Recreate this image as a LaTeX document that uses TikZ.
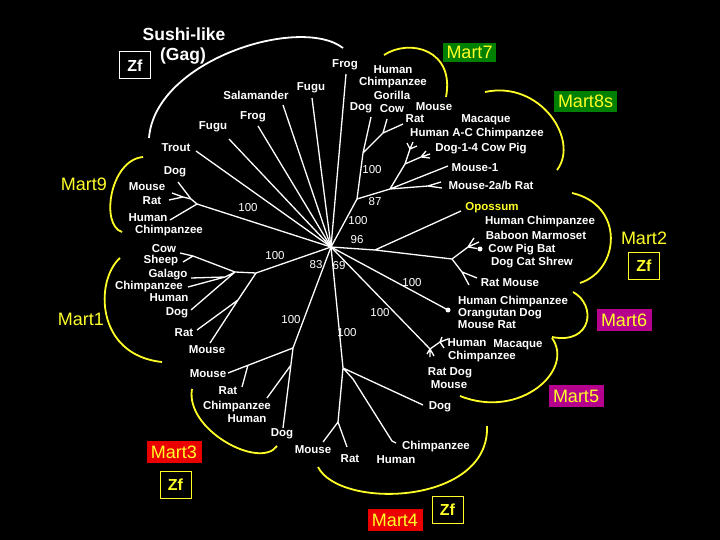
\documentclass[tikz,border=0pt]{standalone}
\usepackage{fontspec}
\setmainfont{Liberation Sans}
\definecolor{mgreen}{RGB}{0,128,0}
\definecolor{mmag}{RGB}{180,0,140}
\definecolor{mred}{RGB}{235,0,0}
\definecolor{myel}{RGB}{255,255,40}
\begin{document}
\begin{tikzpicture}[x=1pt,y=-1pt,
  sp/.style={text=white,font=\bfseries\fontsize{11.5}{12}\selectfont,inner sep=0pt},
  num/.style={text=white,font=\fontsize{11.5}{12}\selectfont,inner sep=0pt},
  br/.style={draw=white,line width=1.3pt},
  grp/.style={draw=myel,line width=1.8pt},
  mart/.style={text=myel,font=\fontsize{18}{18}\selectfont,inner sep=0pt},
  martbox/.style={mart,minimum width=55pt,minimum height=22pt,fill=#1},
  zfbox/.style={draw=myel,line width=1pt,text=myel,font=\bfseries\fontsize{16}{16}\selectfont,inner sep=0pt,minimum width=31pt,minimum height=27pt},
  dotc/.style={fill=white,circle,inner sep=0pt,minimum size=5pt}]
\fill[black] (0,0) rectangle (720,540);
\useasboundingbox (0,0) rectangle (720,540);

% ---- coordinates of the tree ----
\coordinate (c) at (331,247);
\coordinate (ltrout) at (196,151);
\coordinate (lfugua) at (229,139);
\coordinate (lfroga) at (258,126);
\coordinate (lsal) at (283,105);
\coordinate (lfugub) at (312,98);
\coordinate (lfrogb) at (346,74);
% Mart7 / Mart8s
\coordinate (n87) at (357,199);
\coordinate (na) at (363,153);
\coordinate (nadog) at (371,117);
\coordinate (nb) at (383,133);
\coordinate (nbcow) at (387,119);
\coordinate (nbrat) at (403,124);
\coordinate (nd) at (390,189);
\coordinate (ne) at (405,164);
\coordinate (nf1) at (410,149);
\coordinate (nf1a) at (407,143);
\coordinate (nf1b) at (413,142);
\coordinate (nf1c) at (417,146);
\coordinate (nf2) at (421,157);
\coordinate (nf2a) at (426,151);
\coordinate (nf2b) at (430,154);
\coordinate (nf2c) at (430,158);
\coordinate (nmo1) at (448,166);
\coordinate (nu) at (428,186);
\coordinate (nua) at (441,182);
\coordinate (nub) at (442,188);
% Mart2
\coordinate (ng) at (375,250);
\coordinate (nopo) at (461,211);
\coordinate (nh) at (452,259);
\coordinate (ni) at (468,247);
\coordinate (nia) at (474,238);
\coordinate (nib) at (479,242);
\coordinate (nj) at (462,272);
\coordinate (nja) at (477,278);
\coordinate (njb) at (469,285);
% Mart6
\coordinate (n6) at (448,310);
% Mart5
\coordinate (nk) at (430,349);
\coordinate (nka) at (427,354);
\coordinate (nkb) at (430,357);
\coordinate (nkc) at (434,356);
\coordinate (nl) at (440,342);
\coordinate (nla) at (442,337);
\coordinate (nlb) at (448,339);
\coordinate (nlc) at (444,348);
% Mart4
\coordinate (n4) at (343,368);
\coordinate (n4dog) at (423,405);
\coordinate (nv) at (353,379);
\coordinate (nvch) at (392,441);
\coordinate (nvch2) at (396,443);
\coordinate (nw) at (338,422);
\coordinate (nwmo) at (323,442);
\coordinate (nwrat) at (347,447);
% Mart3
\coordinate (nm) at (293,348);
\coordinate (nmdog) at (283,428);
\coordinate (nm2) at (291,365);
\coordinate (nm2ch) at (267,398);
\coordinate (nmmo) at (228,373);
\coordinate (nx) at (248,365);
\coordinate (nxrat) at (242,387);
% Mart1
\coordinate (nn) at (256,273);
\coordinate (np) at (235,272);
\coordinate (np1) at (193,256);
\coordinate (np1a) at (180,253);
\coordinate (np1b) at (183,262);
\coordinate (np2) at (225,277);
\coordinate (np2a) at (191,278);
\coordinate (np2b) at (188,287);
\coordinate (npdog) at (191,310);
\coordinate (nq) at (238,300);
\coordinate (nqrat) at (197,330);
\coordinate (nqmo) at (210,343);
% Mart9
\coordinate (nr) at (197,204);
\coordinate (nrhu) at (170,220);
\coordinate (ns) at (191,199);
\coordinate (nsdog) at (178,182);
\coordinate (nt) at (183,197);
\coordinate (nta) at (172,193);
\coordinate (ntb) at (169,200);

% ---- branches ----
\foreach \e in {ltrout,lfugua,lfroga,lsal,lfugub,lfrogb,n87,ng,n6,nk,n4,nm,nn,nr}
  \draw[br] (c) -- (\e);
\draw[br] (n87) -- (na) (na) -- (nadog) (na) -- (nb) (nb) -- (nbcow) (nb) -- (nbrat);
\draw[br] (n87) -- (nd) (nd) -- (ne) (ne) -- (nf1) (nf1) -- (nf1a) (nf1) -- (nf1b) (nf1) -- (nf1c)
  (ne) -- (nf2) (nf2) -- (nf2a) (nf2) -- (nf2b) (nf2) -- (nf2c)
  (nd) -- (nmo1) (nd) -- (nu) (nu) -- (nua) (nu) -- (nub);
\node[dotc] (dot2) at (480,249) {};
\draw[br] (ng) -- (nopo) (ng) -- (nh) (nh) -- (ni) (ni) -- (nia) (ni) -- (nib) (ni) -- (dot2)
  (nh) -- (nj) (nj) -- (nja) (nj) -- (njb);
\node[dotc] (dot6) at (n6) {};
\draw[br] (nk) -- (nka) (nk) -- (nkb) (nk) -- (nkc) (nk) -- (nl) (nl) -- (nla) (nl) -- (nlb) (nl) -- (nlc);
\draw[br] (n4) -- (n4dog) (n4) -- (nv) (nv) -- (nvch) (nvch) -- (nvch2) (n4) -- (nw) (nw) -- (nwmo) (nw) -- (nwrat);
\draw[br] (nm) -- (nmdog) (nm2) -- (nm2ch) (nm) -- (nmmo) (nx) -- (nxrat);
\draw[br] (nn) -- (np) (np) -- (np1) (np1) -- (np1a) (np1) -- (np1b) (np) -- (np2) (np2) -- (np2a) (np2) -- (np2b)
  (np) -- (npdog) (nn) -- (nq) (nq) -- (nqrat) (nq) -- (nqmo);
\draw[br] (nr) -- (nrhu) (nr) -- (ns) (ns) -- (nsdog) (ns) -- (nt) (nt) -- (nta) (nt) -- (ntb);

% ---- group arcs ----
\draw[draw=white,line width=1.8pt] (149,138) .. controls (155,60) and (300,15) .. (343,48);
\draw[grp] (384,55) .. controls (410,38) and (455,50) .. (446,97);
\draw[grp] (485,92) .. controls (540,80) and (580,140) .. (557,170);
\draw[grp] (572,193) .. controls (625,205) and (620,270) .. (580,283);
\draw[grp] (573,292) .. controls (597,305) and (592,345) .. (552,337);
\draw[grp] (552,338) .. controls (575,370) and (520,420) .. (460,396);
\draw[grp] (318,467) .. controls (340,510) and (490,505) .. (487,426);
\draw[grp] (192,389) .. controls (185,430) and (260,470) .. (277,446);
\draw[grp] (120,258) .. controls (95,280) and (95,355) .. (162,362);
\draw[grp] (143,157) .. controls (110,160) and (100,225) .. (122,232);

% ---- titles and group labels ----
\node[text=white,font=\bfseries\fontsize{17.5}{18}\selectfont,inner sep=0pt] (sushi) at (184,34) {Sushi-like};
\node[text=white,font=\bfseries\fontsize{17.5}{18}\selectfont,inner sep=0pt] (gag) at (183,56.5) {(Gag)};
\node[zfbox,draw=white,text=white] (zfa) at (135,65.5) {Zf};
\node[zfbox] (zfb) at (644,265.5) {Zf};
\node[zfbox] (zfc) at (447.5,510) {Zf};
\node[zfbox] (zfd) at (175.5,484.5) {Zf};
\node[martbox=mgreen,minimum width=53pt,minimum height=19pt] (m7) at (469.5,52.5) {Mart7};
\node[martbox=mgreen,minimum width=63pt,minimum height=21pt] (m8) at (585.5,101.5) {Mart8s};
\node[martbox=mmag] (m6) at (624,320) {Mart6};
\node[martbox=mmag] (m5) at (576,396) {Mart5};
\node[martbox=mred] (m3) at (174,452) {Mart3};
\node[martbox=mred] (m4) at (395,520) {Mart4};
\node[mart] (m9) at (84,184.5) {Mart9};
\node[mart] (m1) at (81,319) {Mart1};
\node[mart] (m2) at (644,238) {Mart2};

% ---- bootstrap values ----
\node[num] (b1) at (372,170) {100};
\node[num] (b2) at (358,220.5) {100};
\node[num] (b3) at (375,202) {87};
\node[num] (b4) at (357,240) {96};
\node[num] (b5) at (316,265) {83};
\node[num] (b6) at (339,266) {69};
\node[num] (b7) at (248,208) {100};
\node[num] (b8) at (275,256) {100};
\node[num] (b9) at (291,320) {100};
\node[num] (b10) at (347,333) {100};
\node[num] (b11) at (380,313) {100};
\node[num] (b12) at (412,283) {100};

% ---- species labels ----
\node[sp] (t1) at (176,147.5) {Trout};
\node[sp] (t2) at (213,126.5) {Fugu};
\node[sp] (t3) at (253,117) {Frog};
\node[sp] (t4) at (256,95.5) {Salamander};
\node[sp] (t5) at (311,88) {Fugu};
\node[sp] (t6) at (345,64.5) {Frog};
% Mart7
\node[sp] (h7) at (393,70) {Human};
\node[sp] (c7) at (393,82.5) {Chimpanzee};
\node[sp] (g7) at (392,95.5) {Gorilla};
\node[sp] (d7) at (361,108) {Dog};
\node[sp] (cw7) at (392,109) {Cow};
\node[sp] (mo7) at (434,107) {Mouse};
\node[sp] (r7) at (415,119) {Rat};
% Mart8s
\node[sp] (mac8) at (486,120) {Macaque};
\node[sp] (hac8) at (477,134) {Human A-C Chimpanzee};
\node[sp] (dg8) at (481,149) {Dog-1-4 Cow Pig};
\node[sp] (mo8a) at (475,168) {Mouse-1};
\node[sp] (mo8b) at (491,185) {Mouse-2a/b Rat};
% Mart2
\node[sp,text=myel] (opo) at (492,207.5) {Opossum};
\node[sp] (hc2) at (540,222) {Human Chimpanzee};
\node[sp] (bm2) at (536,235) {Baboon Marmoset};
\node[sp] (cp2) at (522,250) {Cow Pig Bat};
\node[sp] (dc2) at (532,263) {Dog Cat Shrew};
\node[sp] (rm2) at (510,283) {Rat Mouse};
% Mart6
\node[sp] (hc6) at (513,302) {Human Chimpanzee};
\node[sp] (od6) at (500,314) {Orangutan Dog};
\node[sp] (mr6) at (487,325) {Mouse Rat};
% Mart5
\node[sp] (hu5) at (467,342.5) {Human};
\node[sp] (mac5) at (518,345) {Macaque};
\node[sp] (ch5) at (482,357) {Chimpanzee};
\node[sp] (rd5) at (450,373) {Rat Dog};
\node[sp] (mo5) at (449,385) {Mouse};
% Mart4
\node[sp] (dg4) at (440,407) {Dog};
\node[sp] (ch4) at (436,447) {Chimpanzee};
\node[sp] (hu4) at (396,460) {Human};
\node[sp] (rt4) at (350,459) {Rat};
\node[sp] (mo4) at (313,450) {Mouse};
% Mart3
\node[sp] (mo3) at (208,373.5) {Mouse};
\node[sp] (rt3) at (228,391) {Rat};
\node[sp] (ch3) at (237,407) {Chimpanzee};
\node[sp] (hu3) at (247,419) {Human};
\node[sp] (dg3) at (282,434) {Dog};
% Mart1
\node[sp] (cw1) at (164,249) {Cow};
\node[sp] (sh1) at (161,261) {Sheep};
\node[sp] (ga1) at (168,275) {Galago};
\node[sp] (ch1) at (149,287) {Chimpanzee};
\node[sp] (hu1) at (169,298) {Human};
\node[sp] (dg1) at (177,313) {Dog};
\node[sp] (rt1) at (184,333) {Rat};
\node[sp] (mo1) at (207,349.5) {Mouse};
% Mart9
\node[sp] (dg9) at (175,172) {Dog};
\node[sp] (mo9) at (147,187) {Mouse};
\node[sp] (rt9) at (152,201) {Rat};
\node[sp] (hu9) at (148,218) {Human};
\node[sp] (ch9) at (169,231) {Chimpanzee};
\end{tikzpicture}
\end{document}
